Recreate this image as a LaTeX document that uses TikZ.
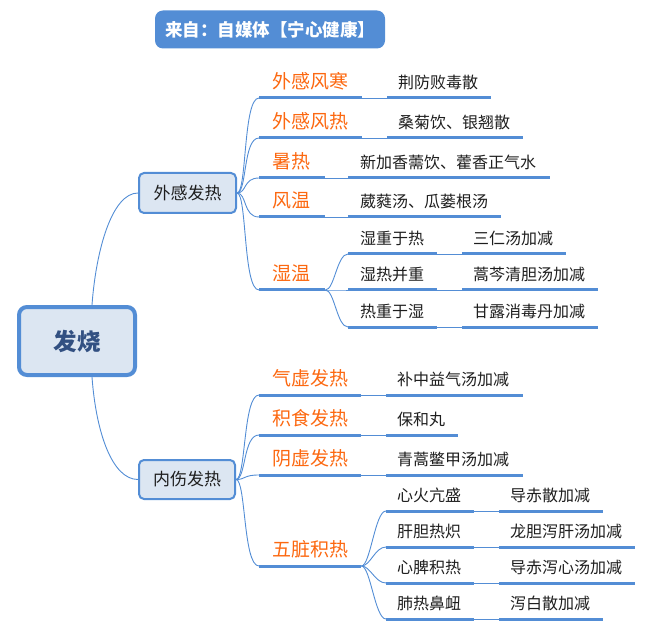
\documentclass[tikz,border=0pt]{standalone}
\usepackage{fontspec}
\setmainfont{Noto Sans CJK SC}
\definecolor{lineblue}{RGB}{83,141,213}
\definecolor{boxfill}{RGB}{220,230,242}
\definecolor{topicorange}{RGB}{252,104,16}
\definecolor{rootblue}{RGB}{50,80,130}
\definecolor{leaftext}{RGB}{30,30,30}
\newcommand\lbx[3]{\makebox[#1][l]{\hspace{#2}#3}}
\begin{document}
\begin{tikzpicture}[x=1pt,y=-1pt,
  ul/.style={draw=lineblue, line width=3pt},
  conn/.style={draw=lineblue, line width=0.9pt},
  lvtwo/.style={inner sep=0pt, anchor=south west, minimum height=33pt, font=\fontsize{19}{21}\selectfont, text=topicorange},
  leaf/.style={inner sep=0pt, anchor=south west, minimum height=30pt, font=\fontsize{16}{18}\selectfont, text=leaftext},
  midbox/.style={draw=lineblue, line width=2pt, fill=boxfill, rounded corners=5pt, inner sep=0pt, font=\fontsize{17}{19}\selectfont, text=leaftext},
]
\useasboundingbox (0,0) rectangle (653,636);

% title
\node[fill=lineblue, rounded corners=8pt, minimum width=230pt, minimum height=38pt, inner sep=0pt,
      text=white, font=\fontsize{17.5}{20}\selectfont\bfseries] (title) at (270,29.5) {来自：自媒体【宁心健康】};

% root
\node[draw=lineblue, line width=4pt, fill=boxfill, rounded corners=8pt, minimum width=116pt, minimum height=68pt,
      inner sep=0pt, text=rootblue, font=\fontsize{23.5}{26}\selectfont\bfseries] (root) at (77,341) {发烧};

% second level boxes
\node[midbox, minimum width=97pt, minimum height=40pt] (b1) at (187.5,193) {外感发热};
\node[midbox, minimum width=96pt, minimum height=39pt] (b2) at (187,479.5) {内伤发热};

% --- 外感发热 branch
\node[lvtwo] (w1) at (259,98)  {\lbx{103pt}{13pt}{外感风寒}};
\node[lvtwo] (w2) at (259,138) {\lbx{103pt}{13pt}{外感风热}};
\node[lvtwo] (w3) at (259,178) {\lbx{66pt}{13pt}{暑热}};
\node[lvtwo] (w4) at (259,217) {\lbx{66pt}{13pt}{风温}};
\node[lvtwo] (w5) at (259,290) {\lbx{66pt}{13pt}{湿温}};

\node[leaf] (c1) at (387,98)  {\lbx{104pt}{11pt}{荆防败毒散}};
\node[leaf] (c2) at (387,138) {\lbx{136pt}{11pt}{桑菊饮、银翘散}};
\node[leaf] (c3) at (348,178) {\lbx{202pt}{12pt}{新加香薷饮、藿香正气水}};
\node[leaf] (c4) at (348,217) {\lbx{153pt}{12pt}{葳蕤汤、瓜蒌根汤}};

\node[leaf] (s1) at (348,254) {\lbx{89pt}{12pt}{湿重于热}};
\node[leaf] (s2) at (348,290) {\lbx{89pt}{12pt}{湿热并重}};
\node[leaf] (s3) at (348,327) {\lbx{89pt}{12pt}{热重于湿}};
\node[leaf] (s1c) at (462,254) {\lbx{104pt}{11pt}{三仁汤加减}};
\node[leaf] (s2c) at (462,290) {\lbx{136pt}{11pt}{蒿芩清胆汤加减}};
\node[leaf] (s3c) at (462,327) {\lbx{136pt}{11pt}{甘露消毒丹加减}};

% --- 内伤发热 branch
\node[lvtwo] (n1) at (259,395) {\lbx{102pt}{13pt}{气虚发热}};
\node[lvtwo] (n2) at (259,435) {\lbx{102pt}{13pt}{积食发热}};
\node[lvtwo] (n3) at (259,475) {\lbx{102pt}{13pt}{阴虚发热}};
\node[lvtwo] (n4) at (259,566) {\lbx{102pt}{13pt}{五脏积热}};

\node[leaf] (d1) at (386,395) {\lbx{137pt}{11pt}{补中益气汤加减}};
\node[leaf] (d2) at (386,435) {\lbx{72pt}{11pt}{保和丸}};
\node[leaf] (d3) at (386,475) {\lbx{137pt}{11pt}{青蒿鳖甲汤加减}};

\node[leaf] (z1) at (386,511) {\lbx{88pt}{11pt}{心火亢盛}};
\node[leaf] (z2) at (386,547) {\lbx{88pt}{11pt}{肝胆热炽}};
\node[leaf] (z3) at (386,583) {\lbx{88pt}{11pt}{心脾积热}};
\node[leaf] (z4) at (386,619) {\lbx{88pt}{11pt}{肺热鼻衄}};
\node[leaf] (z1c) at (499,511) {\lbx{104pt}{11pt}{导赤散加减}};
\node[leaf] (z2c) at (499,547) {\lbx{136pt}{11pt}{龙胆泻肝汤加减}};
\node[leaf] (z3c) at (499,583) {\lbx{136pt}{11pt}{导赤泻心汤加减}};
\node[leaf] (z4c) at (499,619) {\lbx{104pt}{11pt}{泻白散加减}};

% underlines
\foreach \n in {w1,w2,w3,w4,w5,c1,c2,c3,c4,s1,s2,s3,s1c,s2c,s3c,n1,n2,n3,n4,d1,d2,d3,z1,z2,z3,z4,z1c,z2c,z3c,z4c}
  \draw[ul] (\n.south west) -- (\n.south east);

% root connectors
\draw[conn] ([xshift=15pt]root.north) .. controls +(4,-55) and +(-26,0) .. (b1.west);
\draw[conn] ([xshift=15pt]root.south) .. controls +(4,55) and +(-26,0) .. (b2.west);

% box to level two
\foreach \n in {w1,w2,w3,w4,w5}
  \draw[conn] (b1.east) .. controls +(10,0) and +(-16,0) .. (\n.south west);
\foreach \n in {n1,n2,n3,n4}
  \draw[conn] (b2.east) .. controls +(10,0) and +(-16,0) .. (\n.south west);

% level two to children
\foreach \a/\b in {w1/c1,w2/c2,w3/c3,w4/c4,s1/s1c,s2/s2c,s3/s3c,n1/d1,n2/d2,n3/d3,z1/z1c,z2/z2c,z3/z3c,z4/z4c}
  \draw[conn] (\a.south east) -- (\b.south west);
\foreach \n in {s1,s2,s3}
  \draw[conn] (w5.south east) .. controls +(9,0) and +(-11,0) .. (\n.south west);
\foreach \n in {z1,z2,z3,z4}
  \draw[conn] (n4.south east) .. controls +(9,0) and +(-11,0) .. (\n.south west);
\end{tikzpicture}
\end{document}
